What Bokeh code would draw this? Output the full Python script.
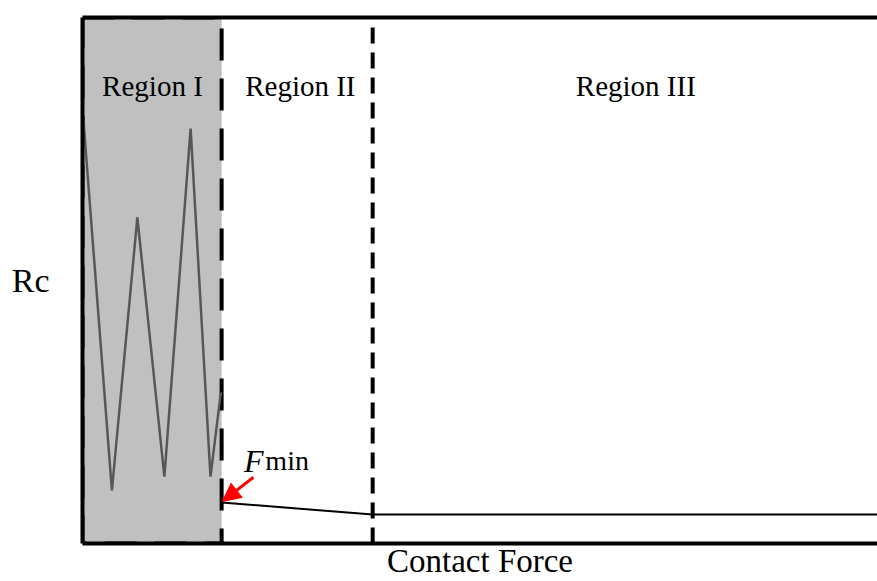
from bokeh.plotting import figure
from bokeh.models import Range1d, LinearAxis, FixedTicker, Arrow, NormalHead
from bokeh.core.properties import value
from bokeh.embed import file_html
from bokeh.resources import INLINE

# Contact force (arbitrary units) and contact resistance values
force_min = 1.75          # F_min: end of the unstable region
force_stable = 3.65       # start of the stable region
force_max = 10.0

# Unstable contact resistance in Region I
unstable_force = [0.01, 0.37, 0.69, 1.03, 1.36, 1.61, 1.74]
unstable_rc = [8.08, 1.01, 6.20, 1.27, 7.89, 1.27, 2.87]

# Decreasing then flat resistance beyond F_min
stable_force = [force_min, force_stable, force_max]
stable_rc = [0.78, 0.55, 0.55]

region_names = ["Region I", "Region II", "Region III"]
region_centers = [0.88, 2.74, 6.96]
region_label_y = 8.70

FONT = "Liberation Serif"

p = figure(width=877, height=581, output_backend="svg", toolbar_location=None,
           x_range=Range1d(0, force_max), y_range=Range1d(0, 10),
           x_axis_location="below", y_axis_location="left",
           min_border_left=82, min_border_right=0, min_border_top=17,
           min_border_bottom=38)
p.grid.visible = False
p.outline_line_color = None
p.background_fill_color = "white"

# Shaded unstable region with dashed border
p.quad(left=0, right=force_min, bottom=0, top=10, fill_color="#c0c0c0",
       line_color="black", line_width=4, line_dash="32 18")

# Boundary between Region II and Region III
p.segment(x0=[force_stable], y0=[0], x1=[force_stable], y1=[9.88],
          line_color="black", line_width=4, line_dash="16 9")

p.line(unstable_force, unstable_rc, line_color="#575757", line_width=2.5)
p.line(stable_force, stable_rc, line_color="black", line_width=2)

p.text(x=region_centers, y=[region_label_y] * 3, text=region_names,
       text_font=value(FONT), text_font_size="29px", text_align="center",
       text_baseline="alphabetic", text_color="black")

p.text(x=[2.03], y=[1.57], text=["F"], text_font=value(FONT),
       text_font_size="32px", text_font_style="italic",
       text_baseline="alphabetic", text_color="black")
p.text(x=[2.30], y=[1.57], text=["min"], text_font=value(FONT),
       text_font_size="28px", text_baseline="alphabetic", text_color="black")

p.add_layout(Arrow(end=NormalHead(fill_color="red", line_color="red", size=18),
                   x_start=2.15, y_start=1.26, x_end=1.76, y_end=0.80,
                   line_color="red", line_width=3))

for ax in (p.xaxis[0], p.yaxis[0]):
    ax.ticker = FixedTicker(ticks=[])
    ax.major_tick_line_color = None
    ax.minor_tick_line_color = None
    ax.major_label_text_font_size = "0px"
    ax.axis_line_width = 4
    ax.axis_line_color = "black"
    ax.axis_label_text_font = FONT
    ax.axis_label_text_font_style = "normal"
    ax.axis_label_text_color = "black"

p.xaxis[0].axis_label = "Contact Force"
p.xaxis[0].axis_label_text_font_size = "33px"
p.xaxis[0].axis_label_standoff = -1

p.yaxis[0].axis_label = "Rc"
p.yaxis[0].axis_label_text_font_size = "34px"
p.yaxis[0].axis_label_orientation = "horizontal"
p.yaxis[0].axis_label_standoff = 33

top = LinearAxis(ticker=FixedTicker(ticks=[]), axis_line_width=4,
                 axis_line_color="black", major_tick_line_color=None,
                 minor_tick_line_color=None, major_label_text_font_size="0px")
p.add_layout(top, "above")

open("out.html", "w").write(file_html(p, INLINE))
